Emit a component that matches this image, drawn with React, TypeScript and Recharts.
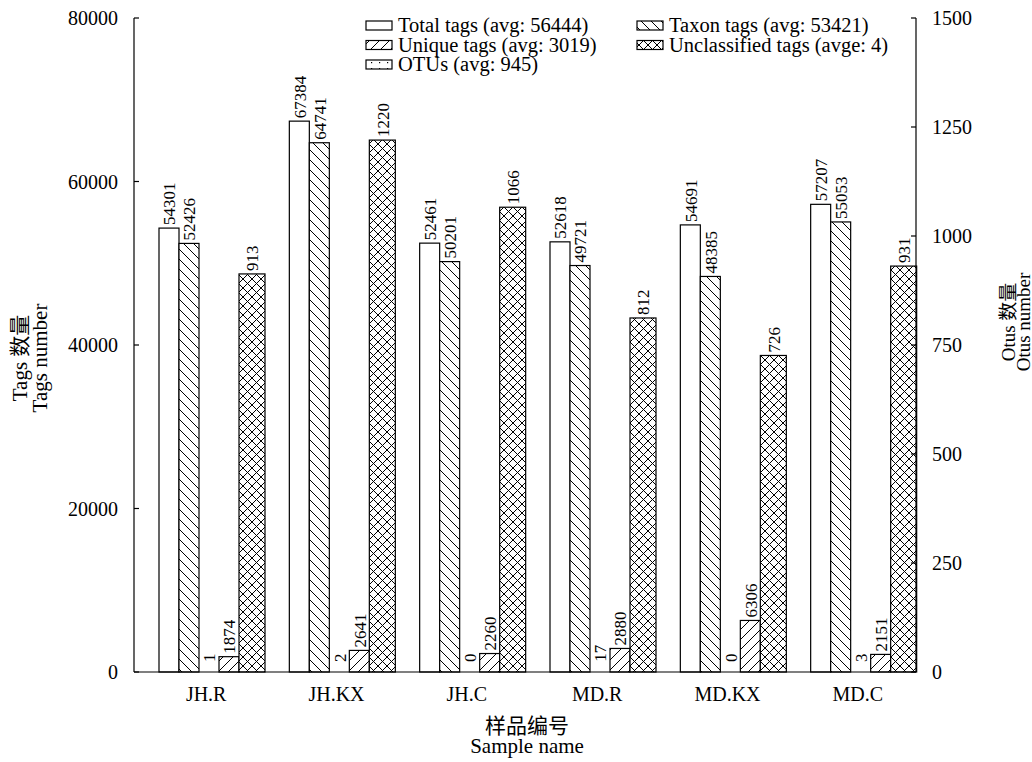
import React from "react";
import {
  BarChart,
  Bar,
  XAxis,
  YAxis,
  Legend,
  LabelList,
} from "recharts";

const categories = ["JH.R", "JH.KX", "JH.C", "MD.R", "MD.KX", "MD.C"];
const totalTags = [54301, 67384, 52461, 52618, 54691, 57207];
const taxonTags = [52426, 64741, 50201, 49721, 48385, 55053];
const unclassifiedTags = [1, 2, 0, 17, 0, 3];
const uniqueTags = [1874, 2641, 2260, 2880, 6306, 2151];
const otus = [913, 1220, 1066, 812, 726, 931];

const leftTicks = [0, 20000, 40000, 60000, 80000];
const rightTicks = [0, 250, 500, 750, 1000, 1250, 1500];

// legend is drawn the way the original figure has it (two columns)
const legendCol1 = [
  { label: "Total tags (avg: 56444)", fill: "#fff" },
  { label: "Unique tags (avg: 3019)", fill: "url(#slash)" },
  { label: "OTUs (avg: 945)", fill: "url(#dots)" },
];
const legendCol2 = [
  { label: "Taxon tags (avg: 53421)", fill: "url(#backslash)" },
  { label: "Unclassified tags (avge: 4)", fill: "url(#cross)" },
];

const data = categories.map((name, i) => ({
  name,
  total: totalTags[i],
  taxon: taxonTags[i],
  unclassified: unclassifiedTags[i],
  unique: uniqueTags[i],
  otus: otus[i],
}));

const FONT = "'Liberation Serif', 'Times New Roman', 'Noto Sans CJK SC', serif";
const SHIFT = 13; // bar groups sit to the right of each category slot

const Patterns = () => (
  <svg width={0} height={0} style={{ position: "absolute" }}>
    <defs>
      <pattern id="backslash" width="10" height="10" patternUnits="userSpaceOnUse">
        <rect width="10" height="10" fill="#fff" />
        <path d="M0,0 L10,10 M-5,5 L5,15 M5,-5 L15,5" stroke="#000" strokeWidth="1" />
      </pattern>
      <pattern id="slash" width="10" height="10" patternUnits="userSpaceOnUse">
        <rect width="10" height="10" fill="#fff" />
        <path d="M0,10 L10,0 M-5,5 L5,-5 M5,15 L15,5" stroke="#000" strokeWidth="1" />
      </pattern>
      <pattern id="cross" width="9" height="9" patternUnits="userSpaceOnUse">
        <rect width="9" height="9" fill="#fff" />
        <path d="M0,0 L9,9 M0,9 L9,0" stroke="#000" strokeWidth="1" />
      </pattern>
      <pattern id="dots" width="8" height="6" patternUnits="userSpaceOnUse">
        <rect width="8" height="6" fill="#fff" />
        <rect x="3" y="2" width="1.2" height="1.2" fill="#000" />
      </pattern>
    </defs>
  </svg>
);

const makeShape = (fill: string) => (props: any) => {
  const { x, y, width, height } = props;
  if (height == null || height < 0.3) return <g />;
  return (
    <rect
      x={x + SHIFT}
      y={y}
      width={width}
      height={height}
      fill={fill}
      stroke="#000"
      strokeWidth={1.2}
    />
  );
};

const makeLabel = (gap: number) => (props: any) => {
  const { x, y, width, value } = props;
  const cx = x + SHIFT + width / 2 + 1;
  const ty = y - gap;
  return (
    <text
      x={cx}
      y={ty}
      transform={`rotate(-90 ${cx} ${ty})`}
      textAnchor="start"
      dominantBaseline="central"
      fontSize={17}
      fontFamily={FONT}
      fill="#000"
    >
      {value}
    </text>
  );
};

const LeftTick = (props: any) => {
  const { x, y, payload } = props;
  return (
    <g>
      <line x1={x + 16} x2={x + 21} y1={y} y2={y} stroke="#000" strokeWidth={1.2} />
      <text x={x} y={y} textAnchor="end" dominantBaseline="central" fontSize={20} fontFamily={FONT} fill="#000">
        {payload.value}
      </text>
    </g>
  );
};

const RightTick = (props: any) => {
  const { x, y, payload } = props;
  return (
    <g>
      <line x1={x - 16} x2={x - 21} y1={y} y2={y} stroke="#000" strokeWidth={1.2} />
      <text x={x} y={y} textAnchor="start" dominantBaseline="central" fontSize={20} fontFamily={FONT} fill="#000">
        {payload.value}
      </text>
    </g>
  );
};

const CategoryTick = (props: any) => {
  const { x, y, payload } = props;
  return (
    <text x={x + 7} y={y + 27} textAnchor="middle" fontSize={20} fontFamily={FONT} fill="#000">
      {payload.value}
    </text>
  );
};

const XTitle = (props: any) => {
  const { x, y, width } = props.viewBox;
  const cx = x + width / 2 + 2;
  return (
    <text textAnchor="middle" fontSize={21} fontFamily={FONT} fill="#000">
      <tspan x={cx} y={y + 61}>样品编号</tspan>
      <tspan x={cx} y={y + 81}>Sample name</tspan>
    </text>
  );
};

const LeftTitle = (props: any) => {
  const { y, height } = props.viewBox;
  const cy = y + height / 2 + 13;
  return (
    <text transform={`rotate(-90 0 ${cy})`} textAnchor="middle" fontSize={21} fontFamily={FONT} fill="#000">
      <tspan x={0} y={cy + 27}>Tags 数量</tspan>
      <tspan x={0} y={cy + 47}>Tags number</tspan>
    </text>
  );
};

const RightTitle = (props: any) => {
  const { y, height } = props.viewBox;
  const cy = y + height / 2 - 23;
  return (
    <text transform={`rotate(-90 0 ${cy})`} textAnchor="middle" fontSize={19} fontFamily={FONT} fill="#000">
      <tspan x={0} y={cy + 1015}>Otus 数量</tspan>
      <tspan x={0} y={cy + 1030}>Otus number</tspan>
    </text>
  );
};

const LegendBox = () => {
  const rowY = [25, 44.5, 64];
  const renderItem = (item: { label: string; fill: string }, i: number, ix: number) => (
    <g key={item.label}>
      <rect x={ix} y={rowY[i] - 4} width={26} height={9} fill={item.fill} stroke="#000" strokeWidth={1.2} />
      <text x={ix + 32} y={rowY[i]} dominantBaseline="central" fontSize={20.5} fontFamily={FONT} fill="#000">
        {item.label}
      </text>
    </g>
  );
  return (
    <svg width={600} height={80} style={{ overflow: "visible" }}>
      {legendCol1.map((it, i) => renderItem(it, i, 6))}
      {legendCol2.map((it, i) => renderItem(it, i, 277))}
    </svg>
  );
};

export default function App() {
  return (
    <div style={{ position: "absolute", left: 0, top: 0, width: 1032, height: 762, background: "#fff" }}>
      <Patterns />
      <BarChart
        width={1032}
        height={762}
        data={data}
        margin={{ top: 18, right: 0, left: 0, bottom: 0 }}
        barGap={0}
        barCategoryGap={0}
      >
        <XAxis
          dataKey="name"
          height={90}
          axisLine={{ stroke: "#000", strokeWidth: 1.2 }}
          tickLine={false}
          tickSize={0}
          tick={<CategoryTick />}
          interval={0}
          label={(p: any) => <XTitle {...p} />}
        />
        <YAxis
          yAxisId="left"
          orientation="left"
          width={134}
          domain={[0, 80000]}
          ticks={leftTicks}
          axisLine={{ stroke: "#000", strokeWidth: 1.2 }}
          tickLine={false}
          tickSize={0}
          tickMargin={16}
          tick={<LeftTick />}
          label={(p: any) => <LeftTitle {...p} />}
        />
        <YAxis
          yAxisId="right"
          orientation="right"
          width={116}
          domain={[0, 1500]}
          ticks={rightTicks}
          axisLine={{ stroke: "#000", strokeWidth: 1.2 }}
          tickLine={false}
          tickSize={0}
          tickMargin={16}
          tick={<RightTick />}
          label={(p: any) => <RightTitle {...p} />}
        />
        <Legend
          layout="horizontal"
          verticalAlign="middle"
          align="center"
          wrapperStyle={{ position: "absolute", left: 360, top: 0, width: 600, height: 80 }}
          content={() => <LegendBox />}
        />
        <Bar yAxisId="left" dataKey="total" barSize={20} isAnimationActive={false} shape={makeShape("#fff")}>
          <LabelList dataKey="total" content={makeLabel(3)} />
        </Bar>
        <Bar yAxisId="left" dataKey="taxon" barSize={20} isAnimationActive={false} shape={makeShape("url(#backslash)")}>
          <LabelList dataKey="taxon" content={makeLabel(3)} />
        </Bar>
        <Bar yAxisId="left" dataKey="unclassified" barSize={20} isAnimationActive={false} shape={makeShape("url(#dots)")}>
          <LabelList dataKey="unclassified" content={makeLabel(10)} />
        </Bar>
        <Bar yAxisId="left" dataKey="unique" barSize={20} isAnimationActive={false} shape={makeShape("url(#slash)")}>
          <LabelList dataKey="unique" content={makeLabel(3)} />
        </Bar>
        <Bar yAxisId="right" dataKey="otus" barSize={26} isAnimationActive={false} shape={makeShape("url(#cross)")}>
          <LabelList dataKey="otus" content={makeLabel(3)} />
        </Bar>
      </BarChart>
    </div>
  );
}
